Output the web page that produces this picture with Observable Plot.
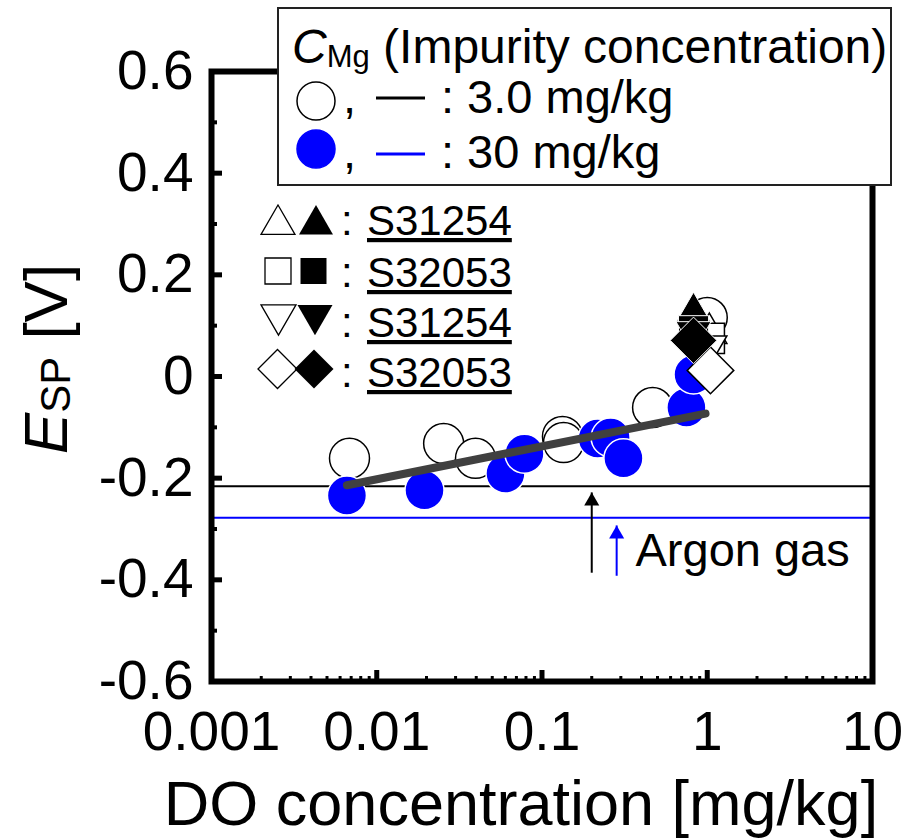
<!DOCTYPE html>
<html><head><meta charset="utf-8">
<script src="https://cdn.jsdelivr.net/npm/d3@7"></script>
<script src="https://cdn.jsdelivr.net/npm/@observablehq/plot@0.6"></script>
<style>body{margin:0;background:#fff}#chart{position:relative;width:906px;height:838px}</style>
</head><body><div id="chart"></div>
<script>
const FONT = "'Liberation Sans', Arial, Helvetica, sans-serif";
const BLUE = "#0000ff";

// ---- data ----
// open circles: C_Mg = 3.0 mg/kg
const do3  = [0.00684, 0.0254, 0.0396, 0.133, 0.135, 0.467, 1.0];
const esp3 = [-0.161, -0.132, -0.161, -0.118, -0.130, -0.061, 0.116];
// blue circles: C_Mg = 30 mg/kg
const do30  = [0.0066, 0.01945, 0.0601, 0.0783, 0.217, 0.26, 0.311, 0.748, 0.826];
const esp30 = [-0.234, -0.224, -0.191, -0.152, -0.122, -0.12, -0.161, -0.061, 0.004];
// fitted line
const fitDO  = [0.0066, 0.976];
const fitESP = [-0.214, -0.073];
// steel grade markers near DO = 1
const shapes     = ["triangle-up", "square", "triangle-down", "diamond"];
const gradeNames = ["S31254", "S32053", "S31254", "S32053"];
const openDO     = [1.03, 1.03, 1.03, 1.046];
const openESP    = [0.085, 0.075, 0.06, 0.012];
const filledDO   = [0.826, 0.826, 0.826, 0.826];
const filledESP  = [0.126, 0.09, 0.088, 0.071];
// argon gas levels
const argonLevel = [-0.216, -0.278];
const argonColor = ["black", BLUE];
const arrowDO    = [0.2, 0.283];
const arrowTail  = [-0.386, -0.392];
const arrowTip   = [-0.228, -0.293];
const argonLabel = {x: 0.368, y: -0.343, text: "Argon gas"};
// axes
const xTicks = [0.001, 0.01, 0.1, 1, 10];
const xMajorInner = [0.01, 0.1, 1];
const xMinor = [0.002,0.003,0.004,0.005,0.006,0.007,0.008,0.009,
                0.02,0.03,0.04,0.05,0.06,0.07,0.08,0.09,
                0.2,0.3,0.4,0.5,0.6,0.7,0.8,0.9,
                2,3,4,5,6,7,8,9];
const yTicks = [0.6, 0.4, 0.2, 0, -0.2, -0.4, -0.6];
const yMajorInner = [0.4, 0.2, 0, -0.2, -0.4];
const yMinor = [0.5, 0.3, 0.1, -0.1, -0.3, -0.5];

// ---- symbols ----
const triDown = {draw(ctx, size){const y=-Math.sqrt(size/(Math.sqrt(3)*3));ctx.moveTo(0,-2*y);ctx.lineTo(-Math.sqrt(3)*y,y);ctx.lineTo(Math.sqrt(3)*y,y);ctx.closePath();}};
const symOf = {"triangle-up": d3.symbolTriangle, "square": d3.symbolSquare, "triangle-down": triDown, "diamond": d3.symbolDiamond2};
const rOf = {"triangle-up": 13, "square": 17, "triangle-down": 13, "diamond": 21};

const pts3 = do3.map((x,i)=>({x, y: esp3[i]}));
const pts30 = do30.map((x,i)=>({x, y: esp30[i]}));
const fit = fitDO.map((x,i)=>({x, y: fitESP[i]}));
const arrows = arrowDO.map((x,i)=>({x, tail: arrowTail[i], tip: arrowTip[i], c: argonColor[i]}));
const levels = argonLevel.map((y,i)=>({y, c: argonColor[i]}));

const symbolMarks = [];
shapes.forEach((s,i)=>{
  symbolMarks.push(Plot.dot([{x: openDO[i], y: openESP[i]}], {x:"x", y:"y", symbol: symOf[s], r: rOf[s], fill:"white", stroke:"black", strokeWidth:1.5}));
});
shapes.forEach((s,i)=>{
  symbolMarks.push(Plot.dot([{x: filledDO[i], y: filledESP[i]}], {x:"x", y:"y", symbol: symOf[s], r: rOf[s], fill:"black", stroke:"white", strokeWidth:1}));
});

const svg = Plot.plot({
  width: 906, height: 838,
  marginLeft: 211, marginRight: 34, marginTop: 71, marginBottom: 157,
  style: {fontFamily: FONT, background: "white", color: "black"},
  x: {type: "log", domain: [0.001, 10], label: null},
  y: {domain: [-0.6, 0.6], label: null},
  color: {type: "identity"},
  marks: [
    Plot.ruleY(levels, {y: "y", stroke: "c", strokeWidth: 2}),
    Plot.dot(pts3, {x:"x", y:"y", r: 20, fill:"white", stroke:"black", strokeWidth:1.5}),
    Plot.dot(pts30, {x:"x", y:"y", r: 19.5, fill: BLUE, stroke:"white", strokeWidth:1.5}),
    Plot.line(fit, {x:"x", y:"y", stroke:"#404040", strokeWidth: 8}),
    ...symbolMarks,
    Plot.link(arrows, {x1:"x", x2:"x", y1:"tail", y2:"tip", stroke:"c", strokeWidth: 2}),
    Plot.dot(arrows, {x:"x", y:"tip", symbol:"triangle", r: 5.6, fill:"c", dy: 8.7}),
    Plot.text([argonLabel], {x:"x", y:"y", text:"text", textAnchor:"start", fontSize: 47, fill:"black"}),
    Plot.ruleY(yMajorInner, {y: d=>d, insetRight: 661-11, stroke:"black", strokeWidth: 5}),
    Plot.ruleY(yMinor, {y: d=>d, insetRight: 661-6, stroke:"black", strokeWidth: 4}),
    Plot.ruleX(xMajorInner, {x: d=>d, insetTop: 610-11, stroke:"black", strokeWidth: 5}),
    Plot.ruleX(xMinor, {x: d=>d, insetTop: 610-5, stroke:"black", strokeWidth: 3}),
    Plot.axisY({ticks: yTicks, tickSize: 0, tickPadding: 18, fontSize: 55, tickFormat: d => String(d), label: null}),
    Plot.axisX({ticks: xTicks, tickSize: 0, tickPadding: 29, fontSize: 55, tickFormat: d => String(d), label: null}),
    Plot.frame({stroke: "black", strokeWidth: 6})
  ]
});
document.getElementById("chart").appendChild(svg);

const g = d3.select(svg).append("g").attr("font-family", FONT).attr("fill", "black").attr("text-anchor", "start");
// axis titles
g.append("text").attr("x", 521).attr("y", 825).attr("text-anchor", "middle").attr("font-size", 63)
  .text("DO concentration [mg/kg]");
const yl = g.append("text").attr("transform", "translate(67,359) rotate(-90)").attr("text-anchor", "middle").attr("font-size", 62);
yl.append("tspan").attr("font-style", "italic").text("E");
yl.append("tspan").attr("font-size", 42).attr("dy", 3).text("SP");
yl.append("tspan").attr("dy", -3).text(" [V]");

// legend 1 (boxed)
const L = g.append("g");
L.append("rect").attr("x", 278).attr("y", 8).attr("width", 613).attr("height", 177)
  .attr("fill", "white").attr("stroke", "#222").attr("stroke-width", 2);
const t1 = L.append("text").attr("x", 292).attr("y", 63).attr("font-size", 48);
t1.append("tspan").attr("font-style", "italic").text("C");
t1.append("tspan").attr("font-size", 31).attr("dy", 4).text("Mg");
t1.append("tspan").attr("dy", -4).text(" (Impurity concentration)");
const legRows = [
  {cy: 101, base: 113, fill: "white", stroke: "black", line: "black", ly: 98, label: ": 3.0 mg/kg"},
  {cy: 149, base: 168, fill: BLUE, stroke: BLUE, line: BLUE, ly: 154, label: ": 30 mg/kg"}
];
legRows.forEach((r)=>{
  L.append("circle").attr("cx", 316).attr("cy", r.cy).attr("r", 19).attr("fill", r.fill).attr("stroke", r.stroke).attr("stroke-width", 1.5);
  L.append("text").attr("x", 343).attr("y", r.base).attr("font-size", 47).text(",");
  L.append("line").attr("x1", 376).attr("x2", 425).attr("y1", r.ly).attr("y2", r.ly).attr("stroke", r.line).attr("stroke-width", 3);
  L.append("text").attr("x", 441).attr("y", r.base).attr("font-size", 47).text(r.label);
});

// legend 2 (steel grades)
const G2 = g.append("g");
const rowBase = [235, 287, 337, 387];
const rowSym = [
  {oy: 224.6, fy: 224.6, ox: 278, fx: 316, size: 499},
  {oy: 271, fy: 271, ox: 278, fx: 313.5, size: 676},
  {oy: 315, fy: 315, ox: 278.5, fx: 315, size: 530},
  {oy: 369, fy: 369, ox: 277.5, fx: 314, size: 970}
];
shapes.forEach((s,i)=>{
  const p = d3.symbol(symOf[s], rowSym[i].size)();
  G2.append("path").attr("d", p).attr("transform", `translate(${rowSym[i].ox},${rowSym[i].oy})`).attr("fill", "white").attr("stroke", "black").attr("stroke-width", 1.3);
  G2.append("path").attr("d", p).attr("transform", `translate(${rowSym[i].fx},${rowSym[i].fy})`).attr("fill", "black");
  G2.append("text").attr("x", 341).attr("y", rowBase[i]).attr("font-size", 42).text(":");
  G2.append("text").attr("x", 367).attr("y", rowBase[i]).attr("font-size", 42)
    .attr("text-decoration", "underline").text(gradeNames[i]);
});
</script></body></html>
